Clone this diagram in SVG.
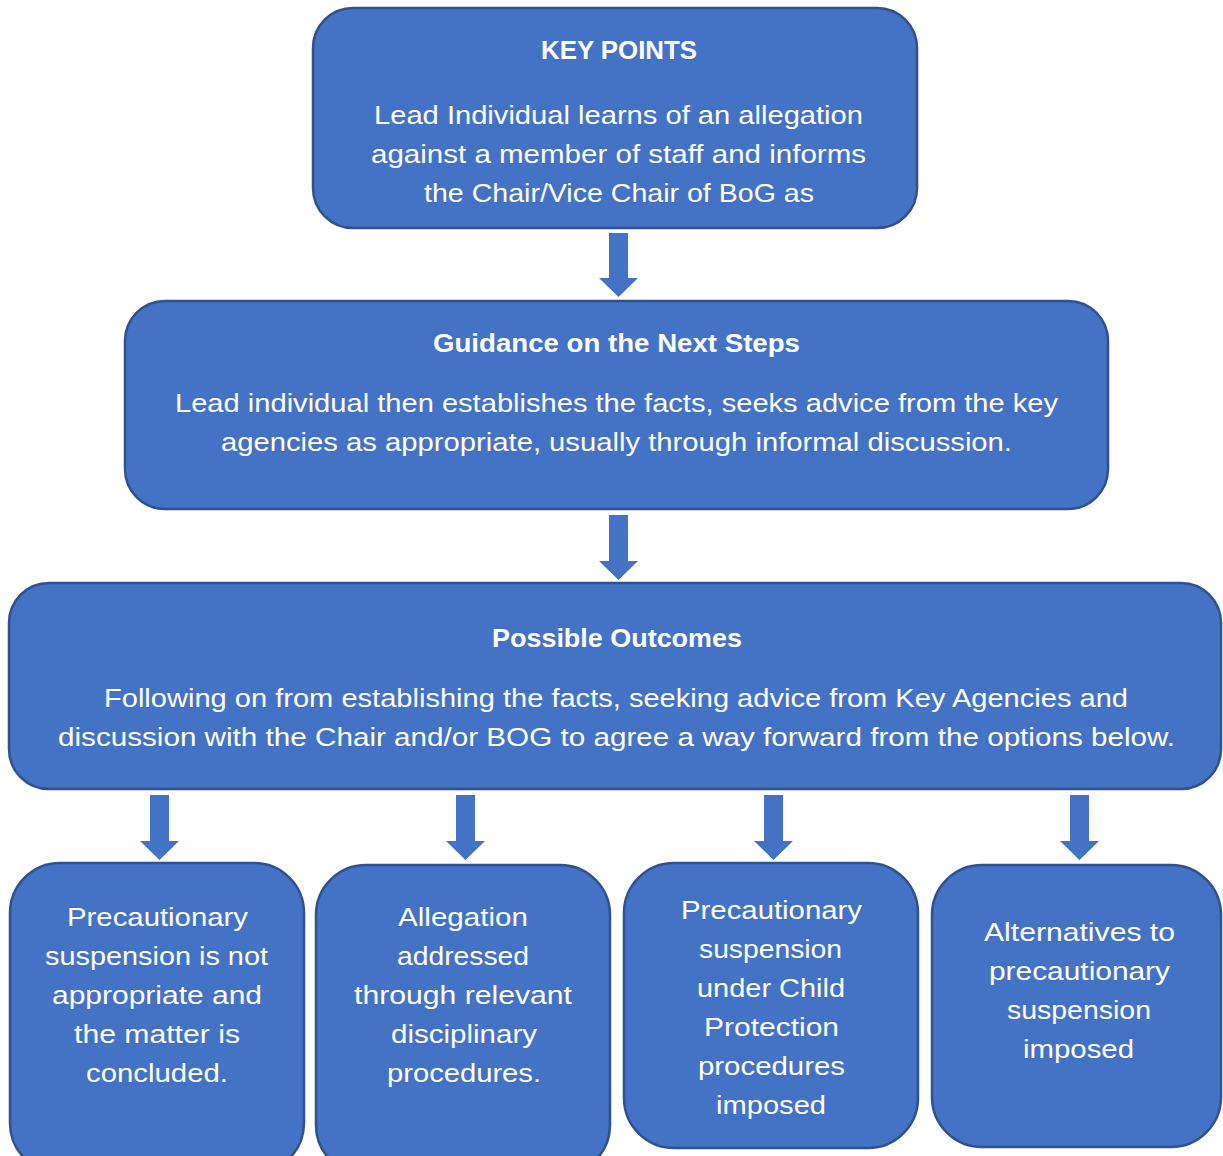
<svg xmlns="http://www.w3.org/2000/svg" width="1223" height="1156" viewBox="0 0 1223 1156">
<style>
.box{fill:#4472C4;stroke:#2F528F;stroke-width:2.5}
.arr{fill:#4472C4}
text{font-family:"Liberation Sans",Arial,sans-serif;fill:#FFFFFF;text-anchor:middle;font-size:25px}
.t{font-weight:bold}
</style>
<rect width="1223" height="1156" fill="#FFFFFF"/>
<g id="connectors">
<polygon class="arr" points="609,233 628,233 628,278 638,278 618.5,297 599,278 609,278"/>
<polygon class="arr" points="609,515 628,515 628,561 638,561 618.5,580 599,561 609,561"/>
<polygon class="arr" points="150,795 169,795 169,841 179,841 159.5,860 140,841 150,841"/>
<polygon class="arr" points="456,795 475,795 475,841 485,841 465.5,860 446,841 456,841"/>
<polygon class="arr" points="764,795 783,795 783,841 793,841 773.5,860 754,841 764,841"/>
<polygon class="arr" points="1070,795 1089,795 1089,841 1099,841 1079.5,860 1060,841 1070,841"/>
</g>
<g id="key-points">
<rect class="box" x="313" y="8" width="604" height="220" rx="40"/>
<text class="t" x="619" y="59" textLength="156" lengthAdjust="spacingAndGlyphs">KEY POINTS</text>
<text x="618.5" y="124" textLength="489" lengthAdjust="spacingAndGlyphs">Lead Individual learns of an allegation</text>
<text x="618.5" y="163" textLength="495" lengthAdjust="spacingAndGlyphs">against a member of staff and informs</text>
<text x="619" y="202" textLength="390" lengthAdjust="spacingAndGlyphs">the Chair/Vice Chair of BoG as</text>
</g>
<g id="next-steps">
<rect class="box" x="125" y="301" width="983" height="208" rx="40"/>
<text class="t" x="616.5" y="352" textLength="367" lengthAdjust="spacingAndGlyphs">Guidance on the Next Steps</text>
<text x="616.5" y="412" textLength="883" lengthAdjust="spacingAndGlyphs">Lead individual then establishes the facts, seeks advice from the key</text>
<text x="616.5" y="451" textLength="791" lengthAdjust="spacingAndGlyphs">agencies as appropriate, usually through informal discussion.</text>
</g>
<g id="outcomes">
<rect class="box" x="9" y="583" width="1212" height="206" rx="40"/>
<text class="t" x="617" y="647" textLength="250" lengthAdjust="spacingAndGlyphs">Possible Outcomes</text>
<text x="616" y="707" textLength="1024" lengthAdjust="spacingAndGlyphs">Following on from establishing the facts, seeking advice from Key Agencies and</text>
<text x="616.5" y="746" textLength="1117" lengthAdjust="spacingAndGlyphs">discussion with the Chair and/or BOG to agree a way forward from the options below.</text>
</g>
<g id="not-appropriate">
<rect class="box" x="10" y="863" width="294" height="310" rx="50"/>
<text x="157.5" y="926" textLength="181" lengthAdjust="spacingAndGlyphs">Precautionary</text>
<text x="156.5" y="965" textLength="223" lengthAdjust="spacingAndGlyphs">suspension is not</text>
<text x="157" y="1004" textLength="210" lengthAdjust="spacingAndGlyphs">appropriate and</text>
<text x="157" y="1043" textLength="166" lengthAdjust="spacingAndGlyphs">the matter is</text>
<text x="157" y="1082" textLength="142" lengthAdjust="spacingAndGlyphs">concluded.</text>
</g>
<g id="disciplinary">
<rect class="box" x="316" y="865" width="294" height="310" rx="50"/>
<text x="463" y="926" textLength="130" lengthAdjust="spacingAndGlyphs">Allegation</text>
<text x="463" y="965" textLength="132" lengthAdjust="spacingAndGlyphs">addressed</text>
<text x="463" y="1004" textLength="218" lengthAdjust="spacingAndGlyphs">through relevant</text>
<text x="464" y="1043" textLength="146" lengthAdjust="spacingAndGlyphs">disciplinary</text>
<text x="464" y="1082" textLength="154" lengthAdjust="spacingAndGlyphs">procedures.</text>
</g>
<g id="child-protection">
<rect class="box" x="624" y="863" width="294" height="285" rx="50"/>
<text x="771.5" y="919" textLength="181" lengthAdjust="spacingAndGlyphs">Precautionary</text>
<text x="770.5" y="958" textLength="143" lengthAdjust="spacingAndGlyphs">suspension</text>
<text x="771" y="997" textLength="148" lengthAdjust="spacingAndGlyphs">under Child</text>
<text x="771.5" y="1036" textLength="135" lengthAdjust="spacingAndGlyphs">Protection</text>
<text x="771.5" y="1075" textLength="147" lengthAdjust="spacingAndGlyphs">procedures</text>
<text x="771" y="1114" textLength="110" lengthAdjust="spacingAndGlyphs">imposed</text>
</g>
<g id="alternatives">
<rect class="box" x="932" y="865" width="289" height="282" rx="50"/>
<text x="1079.5" y="941" textLength="191" lengthAdjust="spacingAndGlyphs">Alternatives to</text>
<text x="1079.5" y="980" textLength="181" lengthAdjust="spacingAndGlyphs">precautionary</text>
<text x="1079" y="1019" textLength="144" lengthAdjust="spacingAndGlyphs">suspension</text>
<text x="1078.5" y="1058" textLength="111" lengthAdjust="spacingAndGlyphs">imposed</text>
</g>
</svg>
